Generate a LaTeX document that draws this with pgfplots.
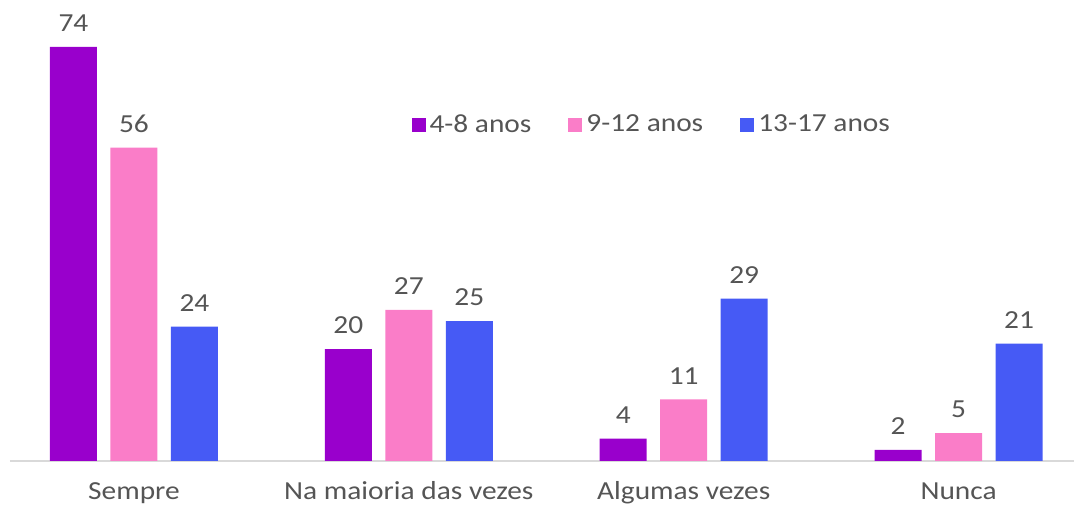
\documentclass[border=0pt]{standalone}
\usepackage{pgfplots}
\pgfplotsset{compat=1.18}
\usepackage{fontspec}
\setmainfont{Carlito}[FakeStretch=1.13]
\definecolor{cpurple}{RGB}{153,0,204}
\definecolor{cpink}{RGB}{250,125,200}
\definecolor{cblue}{RGB}{70,90,245}
\definecolor{ctext}{RGB}{85,85,85}
\begin{document}
\begin{tikzpicture}
\begin{axis}[
  scale only axis,
  width=532pt, height=230.5pt,
  xmin=-0.451, xmax=3.42,
  ymin=0, ymax=82.4,
  axis x line=bottom,
  axis y line=none,
  x axis line style={draw=black!15, line width=0.6pt, -},
  xtick={0,1,2,3},
  xticklabels={Sempre,Na maioria das vezes,Algumas vezes,Nunca},
  major tick length=0pt,
  xticklabel style={anchor=base, yshift=-19.3pt, font=\fontsize{13}{15}\selectfont, text=ctext},
  bar width=0.171,
  nodes near coords,
  nodes near coords style={font=\fontsize{13}{15}\selectfont, text=ctext, anchor=south, yshift=4pt},
  /pgf/number format/assume math mode=true,
  legend columns=3,
  legend style={draw=none, fill=none, at={(0.377,0.729)}, anchor=west,
    font=\fontsize{13}{15}\selectfont, text=ctext,
    /tikz/every even column/.append style={column sep=16.5pt},
    inner sep=0pt},
  sq/.style={legend image code/.code={\fill[##1] (0pt,-3.5pt) rectangle (7pt,3.5pt);}},
]
\coordinate (o) at (rel axis cs:0,0);
\addplot[ybar, bar shift=0pt, fill=cpurple, draw=none, sq] coordinates {(-0.22,74) (0.78,20) (1.78,4) (2.78,2)};
\addlegendentry{4-8 anos}
\addplot[ybar, bar shift=0pt, fill=cpink, draw=none, sq] coordinates {(0,56) (1,27) (2,11) (3,5)};
\addlegendentry{9-12 anos}
\addplot[ybar, bar shift=0pt, fill=cblue, draw=none, sq] coordinates {(0.22,24) (1.22,25) (2.22,29) (3.22,21)};
\addlegendentry{13-17 anos}
\end{axis}
\pgfresetboundingbox
\path[use as bounding box] (o) ++(-5pt,-22.5pt) rectangle ++(537pt,253pt);
\end{tikzpicture}
\end{document}
